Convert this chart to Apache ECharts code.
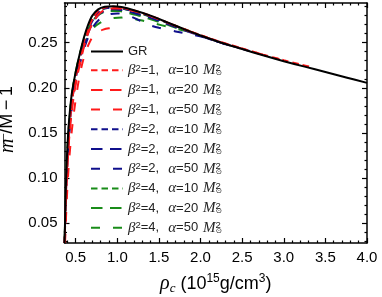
<!DOCTYPE html>
<html><head><meta charset="utf-8">
<script src="https://cdn.jsdelivr.net/npm/echarts@6/dist/echarts.min.js"></script>
<style>html,body{margin:0;padding:0;background:#fff}#c{width:382px;height:297px}</style>
</head><body><div id="c"></div>
<script>
// ---- axis ranges & ticks ----
const xMin = 0.3655, xMax = 4.0;
const yMin = 0.028, yMax = 0.294;
const xMajor = [0.5,1.0,1.5,2.0,2.5,3.0,3.5,4.0];
const xTickLabels = ['0.5','1.0','1.5','2.0','2.5','3.0','3.5','4.0'];
const xMinor = [0.4,0.6,0.7,0.8,0.9,1.1,1.2,1.3,1.4,1.6,1.7,1.8,1.9,2.1,2.2,2.3,2.4,2.6,2.7,2.8,2.9,3.1,3.2,3.3,3.4,3.6,3.7,3.8,3.9];
const yMajor = [0.05,0.10,0.15,0.20,0.25];
const yTickLabels = ['0.05','0.10','0.15','0.20','0.25'];
const yMinor = [0.03,0.04,0.06,0.07,0.08,0.09,0.11,0.12,0.13,0.14,0.16,0.17,0.18,0.19,0.21,0.22,0.23,0.24,0.26,0.27,0.28,0.29];

// ---- series data ----
const grX = [0.366,0.370,0.375,0.380,0.390,0.400,0.413,0.430,0.454,0.480,0.510,0.550,0.600,0.650,0.700,0.770,0.850,0.950,1.050,1.200,1.400,1.600,1.800,2.000,2.250,2.500,2.750,3.000,3.250,3.500,3.750,4.000];
const grY = [0.028,0.042,0.066,0.085,0.113,0.133,0.155,0.174,0.194,0.208,0.222,0.238,0.256,0.270,0.280,0.287,0.2898,0.2905,0.2895,0.2860,0.2800,0.2725,0.2650,0.2580,0.2500,0.2430,0.2360,0.2295,0.2235,0.2175,0.2115,0.2055];

const r10X = [0.367,0.372,0.378,0.385,0.395,0.407,0.420,0.440,0.465,0.500,0.540,0.590,0.640,0.700,0.770,0.850,0.950,1.050,1.200,1.400,1.600,1.800,2.000,2.250,2.500,2.750,3.000,3.200,3.340];
const r10Y = [0.028,0.045,0.068,0.088,0.112,0.134,0.152,0.172,0.191,0.212,0.229,0.248,0.263,0.276,0.2855,0.289,0.2898,0.289,0.2857,0.2798,0.2725,0.2652,0.2584,0.2506,0.2437,0.2368,0.2306,0.2260,0.2228];

const r20X = [0.368,0.375,0.382,0.392,0.405,0.420,0.440,0.465,0.500,0.540,0.590,0.640,0.700,0.770,0.850,0.950,1.050,1.200,1.400,1.600,1.800,2.000,2.250,2.500,2.750,2.950];
const r20Y = [0.028,0.050,0.072,0.096,0.120,0.142,0.163,0.183,0.204,0.222,0.242,0.258,0.271,0.281,0.2865,0.2880,0.2878,0.2850,0.2795,0.2723,0.2650,0.2582,0.2504,0.2434,0.2366,0.2315];

const r50X = [0.372,0.380,0.390,0.403,0.420,0.445,0.475,0.510,0.550,0.600,0.650,0.700,0.760,0.830,0.900,0.960,1.010];
const r50Y = [0.028,0.048,0.070,0.094,0.118,0.145,0.170,0.193,0.215,0.234,0.247,0.256,0.2615,0.2645,0.2660,0.2663,0.2660];

const b10X = [0.367,0.372,0.378,0.386,0.396,0.408,0.422,0.442,0.468,0.500,0.540,0.590,0.640,0.700,0.770,0.850,0.950,1.050,1.200,1.400,1.600,1.800,2.000,2.250,2.450,2.600];
const b10Y = [0.028,0.046,0.069,0.092,0.115,0.136,0.154,0.173,0.193,0.210,0.228,0.246,0.261,0.274,0.2838,0.2880,0.2890,0.2882,0.2850,0.2792,0.2720,0.2648,0.2579,0.2500,0.2445,0.2405];

const b20X = [0.368,0.374,0.381,0.390,0.402,0.416,0.432,0.452,0.478,0.510,0.550,0.600,0.650,0.710,0.780,0.860,0.950,1.050,1.200,1.400,1.600,1.800,2.000,2.250,2.480];
const b20Y = [0.028,0.050,0.073,0.097,0.120,0.141,0.160,0.179,0.197,0.213,0.230,0.247,0.261,0.273,0.2815,0.2855,0.2870,0.2862,0.2830,0.2775,0.2708,0.2640,0.2575,0.2498,0.2437];

const b50X = [0.370,0.377,0.385,0.395,0.408,0.424,0.444,0.470,0.500,0.540,0.590,0.650,0.720,0.800,0.900,1.000,1.100,1.200,1.360,1.500,1.700,1.900,2.100,2.300,2.420];
const b50Y = [0.028,0.052,0.078,0.103,0.127,0.149,0.170,0.190,0.206,0.223,0.240,0.256,0.269,0.277,0.2815,0.2825,0.2810,0.2775,0.2705,0.2665,0.2625,0.2590,0.2545,0.2480,0.2445];

const g10X = [0.366,0.371,0.377,0.384,0.394,0.405,0.418,0.436,0.460,0.490,0.525,0.570,0.620,0.680,0.750,0.830,0.920,1.020,1.150,1.300,1.450,1.600,1.750,1.900];
const g10Y = [0.028,0.046,0.070,0.092,0.116,0.137,0.156,0.176,0.196,0.212,0.227,0.244,0.259,0.272,0.2825,0.2875,0.2888,0.2883,0.2858,0.2818,0.2770,0.2722,0.2668,0.2618];

const g20X = [0.367,0.372,0.378,0.386,0.396,0.408,0.422,0.440,0.465,0.495,0.530,0.575,0.625,0.690,0.760,0.840,0.930,1.030,1.150,1.300,1.450,1.600,1.720,1.850];
const g20Y = [0.028,0.050,0.074,0.097,0.121,0.141,0.161,0.180,0.199,0.215,0.230,0.246,0.260,0.272,0.2800,0.2840,0.2852,0.2850,0.2825,0.2790,0.2745,0.2700,0.2660,0.2625];

const g50X = [0.368,0.374,0.381,0.390,0.402,0.416,0.433,0.455,0.482,0.515,0.555,0.600,0.660,0.720,0.800,0.880,0.960,1.050,1.150,1.300,1.450,1.600,1.800];
const g50Y = [0.028,0.052,0.077,0.101,0.125,0.146,0.166,0.186,0.203,0.219,0.234,0.247,0.259,0.267,0.2725,0.2760,0.2775,0.2778,0.2770,0.2745,0.2712,0.2678,0.2635];

const names = ['GR',
 'b1a10','b1a20','b1a50','b2a10','b2a20','b2a50','b4a10','b4a20','b4a50'];
const betaVals = [null,1,1,1,2,2,2,4,4,4];
const alphaVals = [null,10,20,50,10,20,50,10,20,50];

function pts(xs, ys){ return xs.map((x,i)=>[x, ys[i]]); }

const RED = '#ff1a1a', BLUE = '#10108c', GREEN = '#198c19';
const DASH10 = [6.5,4], DASH20 = [11.5,7.5], DASH50 = [9,13];

const seriesDefs = [
  {n:names[0], d:pts(grX,grY), c:'#000', t:'solid', z:10},
  {n:names[1], d:pts(r10X,r10Y), c:RED, t:DASH10, z:9},
  {n:names[2], d:pts(r20X,r20Y), c:RED, t:DASH20, z:8},
  {n:names[3], d:pts(r50X,r50Y), c:RED, t:DASH50, z:7},
  {n:names[4], d:pts(b10X,b10Y), c:BLUE, t:DASH10, z:6},
  {n:names[5], d:pts(b20X,b20Y), c:BLUE, t:DASH20, z:5},
  {n:names[6], d:pts(b50X,b50Y), c:BLUE, t:DASH50, z:4},
  {n:names[7], d:pts(g10X,g10Y), c:GREEN, t:DASH10, z:3},
  {n:names[8], d:pts(g20X,g20Y), c:GREEN, t:DASH20, z:2},
  {n:names[9], d:pts(g50X,g50Y), c:GREEN, t:DASH50, z:1}
];

const SANS = 'Liberation Sans, Arial, sans-serif';
const SERIF = 'Liberation Serif, Times New Roman, serif';

function frameAxis(kind, pos, major, isMinor, labels){
  const base = {
    type:'value', position:pos,
    min: kind==='x'?xMin:yMin, max: kind==='x'?xMax:yMax,
    axisLine:{show:!isMinor, onZero:false, lineStyle:{color:'#000', width:1.5}},
    axisTick:{show:true, inside:true, length:isMinor?2.5:5, customValues:major, lineStyle:{color:'#000', width:1.2}},
    axisLabel:{show:false},
    splitLine:{show:false}
  };
  if (labels) {
    base.axisLabel = {show:true, customValues:major, color:'#000', fontSize:15, fontFamily:SANS,
      margin: 7,
      formatter: (v)=>{ const arr = kind==='x'?xMajor:yMajor; const lab = kind==='x'?xTickLabels:yTickLabels;
        let best=0; arr.forEach((a,i)=>{ if (Math.abs(a-v)<Math.abs(arr[best]-v)) best=i; }); return lab[best]; }};
  }
  return base;
}

const xA0 = frameAxis('x','bottom',xMajor,false,true);
xA0.name = '{rho|ρ}{sub|c} (10{sup|15}g/cm{sup|3})';
xA0.nameLocation = 'middle';
xA0.nameGap = 30;
xA0.nameTextStyle = {color:'#000', fontSize:18, fontFamily:SANS, rich:{
  rho:{fontFamily:SERIF, fontStyle:'italic', fontSize:20, color:'#000', lineHeight:22},
  sub:{fontFamily:SERIF, fontStyle:'italic', fontSize:13, verticalAlign:'bottom', color:'#000', lineHeight:13, padding:[6,0,0,0]},
  sup:{fontFamily:SANS, fontSize:12, verticalAlign:'top', color:'#000', lineHeight:12, padding:[0,0,8,0]}
}};

const yA0 = frameAxis('y','left',yMajor,false,true);
yA0.name = '{mz|m}{ov|\u2015}/M\u2009\u2212\u20091';
yA0.nameLocation = 'middle';
yA0.nameGap = 42;
yA0.nameTextStyle = {color:'#000', fontSize:18, fontFamily:SANS, padding:[0,0,0,14], rich:{
  mz:{fontFamily:SERIF, fontStyle:'italic', fontSize:20, color:'#000', lineHeight:20, width:0.1},
  ov:{fontFamily:'DejaVu Sans', fontSize:11, color:'#000', lineHeight:8, verticalAlign:'top', padding:[0,0,0,1]}
}};

const legendRich = {
  i:{fontFamily:SERIF, fontStyle:'italic', fontSize:15, color:'#222', lineHeight:14},
  n:{fontFamily:SANS, fontSize:13, color:'#222', lineHeight:14},
  g:{width:9, lineHeight:14},
  h:{width:5, lineHeight:14},
  s:{fontFamily:SANS, fontSize:9.5, color:'#222', lineHeight:6, verticalAlign:'top'},
  sz:{fontFamily:SANS, fontSize:9.5, color:'#222', lineHeight:6, verticalAlign:'top', width:0.1},
  o:{fontFamily:'DejaVu Sans', fontSize:7.5, color:'#222', lineHeight:6, verticalAlign:'bottom'}
};

const option = {
  animation:false,
  backgroundColor:'#fff',
  grid:{left:64.5, right:15, top:3, bottom:54, containLabel:false, outerBoundsMode:'none'},
  xAxis:[xA0, frameAxis('x','top',xMajor,false,false), frameAxis('x','bottom',xMinor,true,false), frameAxis('x','top',xMinor,true,false)],
  yAxis:[yA0, frameAxis('y','right',yMajor,false,false), frameAxis('y','left',yMinor,true,false), frameAxis('y','right',yMinor,true,false)],
  legend:{
    orient:'vertical', left:90, top:45, padding:0, itemGap:4.7, itemWidth:32, itemHeight:12,
    data:names,
    itemStyle:{opacity:0},
    textStyle:{color:'#222', fontSize:13, fontFamily:SANS, rich:legendRich},
    formatter:(nm)=>{
      const k = names.indexOf(nm);
      if (k===0) return '{n|GR}';
      return '{i|β}{s|2}{n|=' + betaVals[k] + ',}{g|}{i|α}{n|=' + alphaVals[k] + '}{h|}{i|M}{sz|2}{o|⊙}';
    }
  },
  series: seriesDefs.map(s=>({
    type:'line', name:s.n, data:s.d, xAxisIndex:0, yAxisIndex:0,
    symbol:'none', smooth:0.3, z:s.z, clip:true,
    lineStyle:{color:s.c, width:2, type:s.t},
    itemStyle:{color:s.c}
  }))
};

const chart = echarts.init(document.getElementById('c'), null, {renderer:'canvas'});
chart.setOption(option);
</script></body></html>
